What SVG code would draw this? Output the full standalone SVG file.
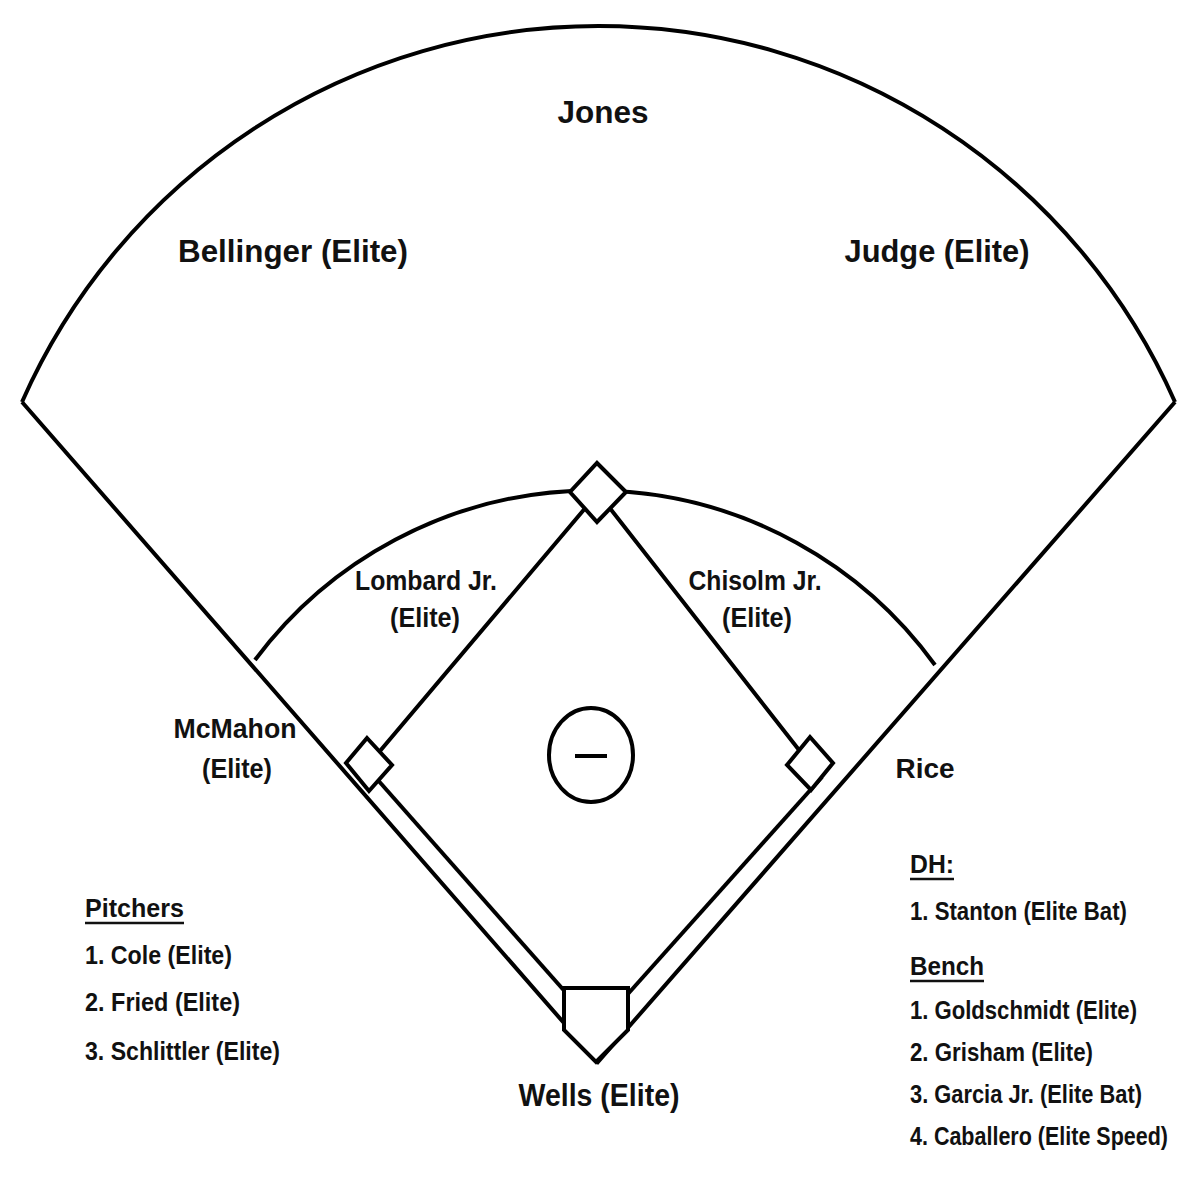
<svg xmlns="http://www.w3.org/2000/svg" width="1200" height="1200" viewBox="0 0 1200 1200">
<style>
.ln{fill:none;stroke:#000;stroke-width:4;stroke-linejoin:miter}
.bs{fill:#fff;stroke:#000;stroke-width:4}
text{font-family:"Liberation Sans",Arial,sans-serif;font-weight:bold;fill:#111}
.big{font-size:32px;text-anchor:middle}
.mid{font-size:27px;text-anchor:middle}
.lst{font-size:25px}
.ul{stroke:#111;stroke-width:2.5}
</style>
<rect width="1200" height="1200" fill="#fff"/>
<g id="field">
<path class="ln" d="M22,402 A630,630 0 0 1 1175,402"/>
<path class="ln" d="M255,660 A422,422 0 0 1 935,665"/>
<path class="ln" d="M22,402 L598,1062 L1175,402"/>
<path class="ln" d="M568,995 L369,770"/>
<path class="ln" d="M627,995 L822,777"/>
<path class="ln" d="M369,764 L598,493 L810,764"/>
</g>
<g id="home"><path class="bs" d="M564,988 H628 V1030 L596,1062 L564,1030 Z"/></g>
<g id="third"><path class="bs" d="M367,738 L392,765 L369,791 L346,763 Z"/></g>
<g id="second"><path class="bs" d="M597,463 L626,492 L597,522 L570,492 Z"/></g>
<g id="first"><path class="bs" d="M810,737 L833,763 L811,790 L787,765 Z"/></g>
<g id="mound"><ellipse class="ln" cx="591" cy="755" rx="42" ry="47"/><line class="ln" x1="575" y1="756" x2="607" y2="756"/></g>
<g id="labels">
<text class="big" x="603" y="123" textLength="91" lengthAdjust="spacingAndGlyphs">Jones</text>
<text class="big" x="293" y="262" textLength="230" lengthAdjust="spacingAndGlyphs">Bellinger (Elite)</text>
<text class="big" x="937" y="262" textLength="185" lengthAdjust="spacingAndGlyphs">Judge (Elite)</text>
<text class="mid" x="426" y="590" textLength="142" lengthAdjust="spacingAndGlyphs">Lombard Jr.</text>
<text class="mid" x="425" y="627" textLength="70" lengthAdjust="spacingAndGlyphs">(Elite)</text>
<text class="mid" x="755" y="590" textLength="133" lengthAdjust="spacingAndGlyphs">Chisolm Jr.</text>
<text class="mid" x="757" y="627" textLength="70" lengthAdjust="spacingAndGlyphs">(Elite)</text>
<text class="mid" x="235" y="738" textLength="123" lengthAdjust="spacingAndGlyphs">McMahon</text>
<text class="mid" x="237" y="778" textLength="70" lengthAdjust="spacingAndGlyphs">(Elite)</text>
<text class="mid" x="925" y="778" textLength="59" lengthAdjust="spacingAndGlyphs">Rice</text>
<text class="big" x="599" y="1106" textLength="161" lengthAdjust="spacingAndGlyphs">Wells (Elite)</text>
</g>
<g id="pitchers">
<text class="lst" x="85" y="917" textLength="99" lengthAdjust="spacingAndGlyphs">Pitchers</text><line class="ul" x1="85" y1="923" x2="184" y2="923"/>
<text class="lst" x="85" y="964" textLength="147" lengthAdjust="spacingAndGlyphs">1. Cole (Elite)</text>
<text class="lst" x="85" y="1011" textLength="155" lengthAdjust="spacingAndGlyphs">2. Fried (Elite)</text>
<text class="lst" x="85" y="1060" textLength="195" lengthAdjust="spacingAndGlyphs">3. Schlittler (Elite)</text>
</g>
<g id="dh">
<text class="lst" x="910" y="873" textLength="44" lengthAdjust="spacingAndGlyphs">DH:</text><line class="ul" x1="910" y1="879" x2="954" y2="879"/>
<text class="lst" x="910" y="920" textLength="217" lengthAdjust="spacingAndGlyphs">1. Stanton (Elite Bat)</text>
<text class="lst" x="910" y="975" textLength="74" lengthAdjust="spacingAndGlyphs">Bench</text><line class="ul" x1="910" y1="981" x2="984" y2="981"/>
<text class="lst" x="910" y="1019" textLength="227" lengthAdjust="spacingAndGlyphs">1. Goldschmidt (Elite)</text>
<text class="lst" x="910" y="1061" textLength="183" lengthAdjust="spacingAndGlyphs">2. Grisham (Elite)</text>
<text class="lst" x="910" y="1103" textLength="232" lengthAdjust="spacingAndGlyphs">3. Garcia Jr. (Elite Bat)</text>
<text class="lst" x="910" y="1145" textLength="258" lengthAdjust="spacingAndGlyphs">4. Caballero (Elite Speed)</text>
</g>
</svg>
